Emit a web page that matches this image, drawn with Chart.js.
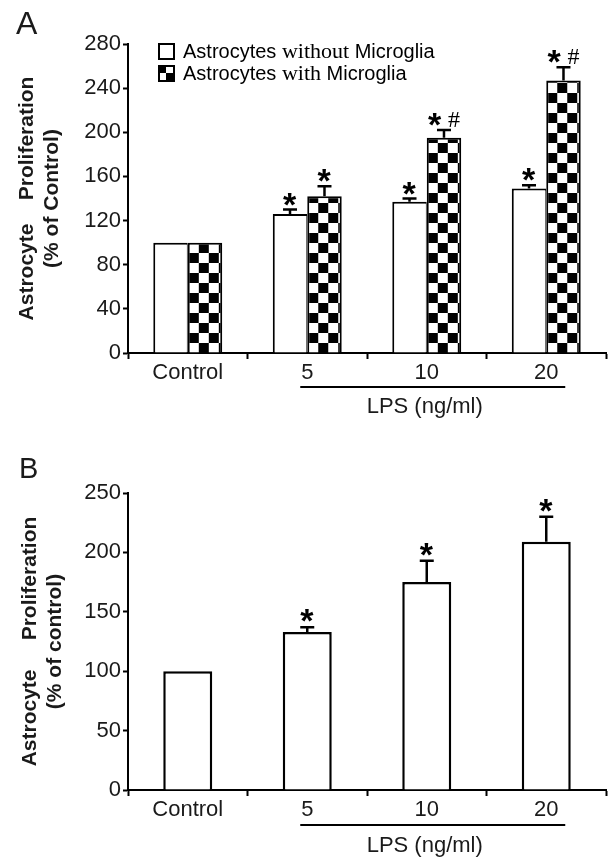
<!DOCTYPE html>
<html><head><meta charset="utf-8">
<script src="https://cdn.jsdelivr.net/npm/chart.js@4.4.1/dist/chart.umd.min.js"></script>
<style>
html,body{margin:0;padding:0;background:#fff;}
#wrap{position:relative;width:614px;height:866px;overflow:hidden;}
#ca{position:absolute;left:0;top:0;}
#cb{position:absolute;left:0;top:430px;}
</style></head><body>
<div id="wrap"><canvas id="ca" width="614" height="430"></canvas><canvas id="cb" width="614" height="436"></canvas></div>
<script>
// ---- data ----
const categories = ['Control', '5', '10', '20'];
const seriesNames = ['Astrocytes without Microglia', 'Astrocytes with Microglia'];
const withoutMicroglia = [100, 126, 137, 149];
const withoutMicrogliaSEM = [0, 4, 3, 3];
const withoutMarks = ['', '*', '*', '*'];
const withMicroglia = [100, 142, 195, 247];
const withMicrogliaSEM = [0, 9, 7, 12];
const withMarks = ['', '*', '*#', '*#'];
const yTicksA = [0, 280, 40];
const panelBValues = [100, 133, 175, 209];
const panelBSEM = [0, 4, 18, 21];
const panelBMarks = ['', '*', '*', '*'];
const yTicksB = [0, 250, 50];
const xTitle = 'LPS (ng/ml)';
const yTitleA = ['Astrocyte    Proliferation', '(% of Control)'];
const yTitleB = ['Astrocyte     Proliferation', '(% of control)'];

const SANS = '"Liberation Sans", Arial, Helvetica, sans-serif';
const SERIF = '"Liberation Serif", "Times New Roman", serif';
const TXT = '#1a1a1a';

function checkerCanvas(cell) {
  const c = document.createElement('canvas');
  c.width = c.height = cell * 2;
  const g = c.getContext('2d');
  g.fillStyle = '#fff'; g.fillRect(0, 0, cell * 2, cell * 2);
  g.fillStyle = '#000'; g.fillRect(0, 0, cell, cell); g.fillRect(cell, cell, cell, cell);
  return c;
}
const checkerImg = checkerCanvas(10);
const legendChecker = checkerCanvas(7);

function checkerFill(ctx) {
  const chart = ctx.chart;
  const p = chart.ctx.createPattern(checkerImg, 'repeat');
  const xs = chart.scales.x, ys = chart.scales.y;
  if (xs && ys && ctx.dataIndex !== undefined) {
    const cx = xs.getPixelForValue(ctx.dataIndex);
    const by = ys.getPixelForValue(0);
    p.setTransform(new DOMMatrix().translate(cx + 1, by));
  }
  return p;
}

function drawMark(ctx, mark, cx, bottomY) {
  ctx.save();
  const starFont = 'bold 34px ' + SANS;
  const hashFont = '24px ' + SERIF;
  ctx.font = starFont;
  const ms = ctx.measureText('*');
  const sw = ms.actualBoundingBoxLeft + ms.actualBoundingBoxRight;
  let hw = 0, mh = null;
  const hasHash = mark.indexOf('#') >= 0;
  if (hasHash) {
    ctx.font = hashFont;
    mh = ctx.measureText('#');
    hw = mh.actualBoundingBoxLeft + mh.actualBoundingBoxRight;
  }
  const gap = hasHash ? 6 : 0;
  const total = sw + gap + hw;
  let x0 = cx - total / 2;
  ctx.fillStyle = '#000';
  ctx.textAlign = 'left';
  ctx.textBaseline = 'alphabetic';
  ctx.font = starFont;
  ctx.fillText('*', x0 + ms.actualBoundingBoxLeft, bottomY - ms.actualBoundingBoxDescent);
  if (hasHash) {
    ctx.font = hashFont;
    ctx.fillText('#', x0 + sw + gap + mh.actualBoundingBoxLeft, bottomY + 1 - mh.actualBoundingBoxDescent);
  }
  ctx.restore();
}

const annotPlugin = {
  id: 'annot',
  afterDatasetsDraw(chart, args, opts) {
    const ctx = chart.ctx, ys = chart.scales.y;
    chart.data.datasets.forEach((ds, di) => {
      const meta = chart.getDatasetMeta(di);
      meta.data.forEach((bar, i) => {
        const v = ds.data[i], e = ds.sem[i];
        const top = ys.getPixelForValue(v + e);
        if (e > 0) {
          ctx.save();
          ctx.strokeStyle = '#000'; ctx.lineWidth = 2.5;
          ctx.beginPath();
          ctx.moveTo(bar.x, bar.y); ctx.lineTo(bar.x, top);
          ctx.moveTo(bar.x - opts.cap / 2, top); ctx.lineTo(bar.x + opts.cap / 2, top);
          ctx.stroke();
          ctx.restore();
        }
        const m = ds.marks[i];
        if (m) drawMark(ctx, m, bar.x, top - opts.gap);
      });
    });
  },
  afterDraw(chart, args, opts) {
    const ctx = chart.ctx, xs = chart.scales.x;
    ctx.save();
    // LPS bracket line
    const x1 = xs.getPixelForValue(1) - 7, x2 = xs.getPixelForValue(3) + 19;
    const ly = xs.top + opts.lineOffset;
    ctx.strokeStyle = '#000'; ctx.lineWidth = 2;
    ctx.beginPath(); ctx.moveTo(x1, ly); ctx.lineTo(x2, ly); ctx.stroke();
    ctx.fillStyle = TXT; ctx.font = '22px ' + SANS;
    ctx.textAlign = 'center'; ctx.textBaseline = 'middle';
    ctx.fillText(xTitle, (x1 + x2) / 2 - 8, xs.top + opts.titleOffset);
    // panel letter
    ctx.font = opts.letterSize + 'px ' + SANS;
    ctx.textAlign = 'left'; ctx.textBaseline = 'alphabetic';
    ctx.fillText(opts.letter, opts.letterX, opts.letterY);
    // legend
    if (opts.legend) {
      const items = [{fill: '#fff'}, {fill: chart.ctx.createPattern(legendChecker, 'repeat')}];
      items.forEach((it, k) => {
        const bx = 158, by = 43 + k * 22, s = 17;
        if (k === 1) it.fill.setTransform(new DOMMatrix().translate(bx + 1, by + 1));
        ctx.fillStyle = it.fill; ctx.fillRect(bx, by, s, s);
        ctx.strokeStyle = '#000'; ctx.lineWidth = 2; ctx.strokeRect(bx + 1, by + 1, s - 2, s - 2);
        // mixed font label
        let tx = 183; const ty = by + s / 2 + 1;
        ctx.textBaseline = 'middle'; ctx.fillStyle = '#000';
        const words = chart.data.datasets[k].label.split(' ');
        words.forEach((w, wi) => {
          const serif = (w === 'without' || w === 'with');
          ctx.font = serif ? '22px ' + SERIF : '20px ' + SANS;
          const t = w + (wi < words.length - 1 ? ' ' : '');
          ctx.fillText(t, tx, ty);
          tx += ctx.measureText(t).width;
        });
      });
    }
    ctx.restore();
  }
};

function makeOptions(ticks, title, titlePad, xHeight, padTop, annot) {
  return {
    responsive: false, animation: false, devicePixelRatio: 1,
    layout: {padding: {top: padTop, right: 8, left: 0, bottom: 0}},
    plugins: {legend: {display: false}, tooltip: {enabled: false}, annot: annot},
    scales: {
      x: {
        grid: {display: true, drawOnChartArea: false, drawTicks: true, tickLength: 6, tickWidth: 2, tickColor: '#000', offset: true},
        border: {display: true, color: '#000', width: 2},
        ticks: {font: {family: SANS, size: 22}, color: TXT, padding: 1, maxRotation: 0},
        afterFit(s) { s.height = xHeight; }
      },
      y: {
        min: ticks[0], max: ticks[1],
        ticks: {stepSize: ticks[2], font: {family: SANS, size: 22}, color: TXT, padding: 2},
        grid: {display: true, drawOnChartArea: false, drawTicks: true, tickLength: 5, tickWidth: 2, tickColor: '#000'},
        border: {display: true, color: '#000', width: 2},
        title: {display: true, text: title, color: TXT, font: {family: SANS, size: 21, weight: 'bold', lineHeight: 1.22}, padding: {top: titlePad, bottom: 0}},
        afterFit(s) { s.width = 128; }
      }
    }
  };
}

new Chart(document.getElementById('ca'), {
  type: 'bar',
  data: {
    labels: categories,
    datasets: [
      {label: seriesNames[0], data: withoutMicroglia, sem: withoutMicrogliaSEM, marks: withoutMarks,
       backgroundColor: '#fff', borderColor: '#000', borderWidth: {top: 2, left: 2, right: 1, bottom: 0},
       categoryPercentage: 0.577, barPercentage: 1},
      {label: seriesNames[1], data: withMicroglia, sem: withMicrogliaSEM, marks: withMarks,
       backgroundColor: checkerFill, borderColor: '#000', borderWidth: {top: 2, left: 2, right: 2, bottom: 0},
       categoryPercentage: 0.577, barPercentage: 1}
    ]
  },
  options: makeOptions(yTicksA, yTitleA, 14, 77, 44,
    {cap: 14, gap: 4, lineOffset: 34, titleOffset: 54, letter: 'A', letterSize: 32, letterX: 16, letterY: 34, legend: true}),
  plugins: [annotPlugin]
});

new Chart(document.getElementById('cb'), {
  type: 'bar',
  data: {
    labels: categories,
    datasets: [
      {label: 'Astrocyte Proliferation', data: panelBValues, sem: panelBSEM, marks: panelBMarks,
       backgroundColor: '#fff', borderColor: '#000', borderWidth: {top: 2.5, left: 2.5, right: 2.5, bottom: 0},
       categoryPercentage: 1, barPercentage: 0.41}
    ]
  },
  options: makeOptions(yTicksB, yTitleB, 17, 76, 63,
    {cap: 14, gap: 5, lineOffset: 35, titleOffset: 56, letter: 'B', letterSize: 29, letterX: 19, letterY: 48, legend: false}),
  plugins: [annotPlugin]
});
</script>
</body></html>
